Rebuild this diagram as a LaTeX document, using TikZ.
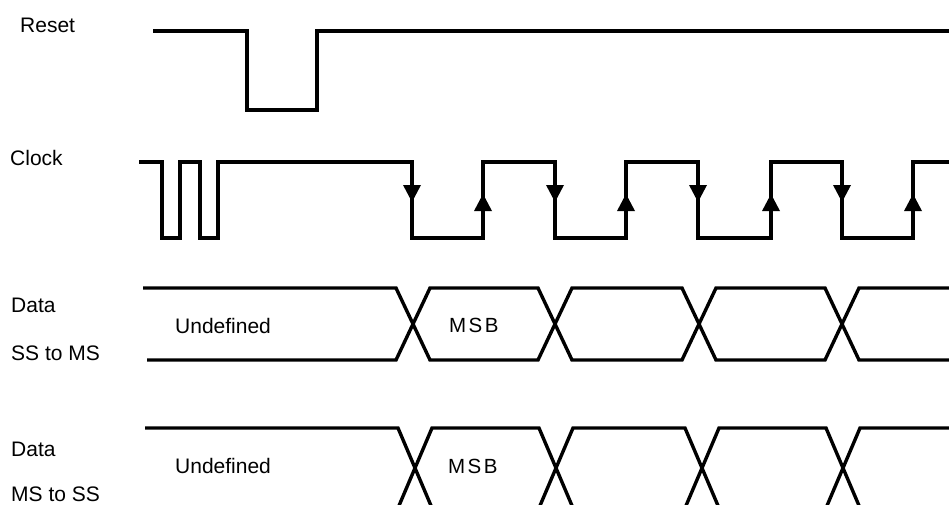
\documentclass[tikz,border=0pt]{standalone}
\usepackage{fontspec}
\setmainfont{Liberation Sans}
\begin{document}
\begin{tikzpicture}[x=1pt,y=-1pt,
  sig/.style={line width=3.4pt, line join=miter, line cap=butt},
  lbl/.style={anchor=base west, inner sep=0pt, font=\fontsize{21}{25}\selectfont},
  msb/.style={anchor=base west, inner sep=0pt, font=\fontsize{20.5}{24}\selectfont\addfontfeature{LetterSpace=12}},
  tip/.style={fill=black}]
\useasboundingbox (0,0) rectangle (949,504);
\clip (0,0) rectangle (949,504);
% labels
\node[lbl] (lreset) at (20,32) {Reset};
\node[lbl] (lclock) at (10,165) {Clock};
\node[lbl] (ldata1) at (11,312) {Data};
\node[lbl] (lss) at (11,360) {SS to MS};
\node[lbl] (ldata2) at (11,456) {Data};
\node[lbl] (lms) at (11,501) {MS to SS};
\node[lbl] (und1) at (175,333) {Undefined};
\node[lbl] (und2) at (175,473) {Undefined};
\node[msb] (msb1) at (449,332) {MSB};
\node[msb] (msb2) at (448,473) {MSB};
% reset
\draw[sig] (153,31) -| (247,110) -| (317,31) -- (960,31);
% clock
\draw[sig] (139,162) -| (162,238) -| (180,162) -| (200,238) -| (218,162)
  -| (412,238) -| (483,162) -| (555,238) -| (626,162) -| (698,238)
  -| (771,162) -| (842,238) -| (913,162) -- (960,162);
\foreach \c in {412,555,698,842} {
  \fill[tip] (\c-9,185) -- (\c+9,185) -- (\c,202) -- cycle;
}
\foreach \c in {483,626,771,913} {
  \fill[tip] (\c-9,211) -- (\c+9,211) -- (\c,194) -- cycle;
}
% data SS to MS
\draw[sig] (143,288) -- (396,288) -- (430,360) -- (538,360) -- (572,288)
  -- (682,288) -- (716,360) -- (825,360) -- (859,288) -- (960,288);
\draw[sig] (147,360) -- (396,360) -- (430,288) -- (538,288) -- (572,360)
  -- (682,360) -- (716,288) -- (825,288) -- (859,360) -- (960,360);
% data MS to SS
\draw[sig] (145,428) -- (398,428) -- (432,508) -- (539,508) -- (573,428)
  -- (685,428) -- (719,508) -- (826,508) -- (860,428) -- (960,428);
\draw[sig] (145,508) -- (398,508) -- (432,428) -- (539,428) -- (573,508)
  -- (685,508) -- (719,428) -- (826,428) -- (860,508) -- (960,508);
\end{tikzpicture}
\end{document}
